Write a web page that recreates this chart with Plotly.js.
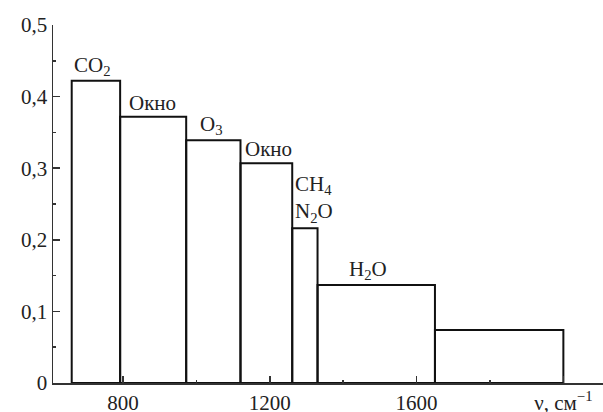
<!DOCTYPE html>
<html><head><meta charset="utf-8">
<script src="https://cdn.plot.ly/plotly-3.0.1.min.js"></script>
<style>html,body{margin:0;padding:0;background:#fff}#chart{width:603px;height:412px}</style>
</head><body><div id="chart"></div>
<script>
// Band edges (cm^-1) and values
const bandEdges = [660, 792, 972, 1120, 1261, 1330, 1650, 2000];
const bandValues = [0.422, 0.372, 0.339, 0.307, 0.216, 0.137, 0.074];
const bandLabels = ['CO<sub>2</sub>', 'Окно', 'O<sub>3</sub>', 'Окно', 'CH<sub>4</sub><br>N<sub>2</sub>O', 'H<sub>2</sub>O', ''];
const labelShift = [0, 7, 12, 3, 1, 29, 0];
const xTickVals = [800, 1200, 1600, 2000];
const xTickText = ['800', '1200', '1600', 'ν, см<sup>−1</sup>'];
const yTickVals = [0, 0.1, 0.2, 0.3, 0.4, 0.5];
const yTickText = ['0', '0,1', '0,2', '0,3', '0,4', '0,5'];

const centers = bandValues.map((v, i) => (bandEdges[i] + bandEdges[i + 1]) / 2);
const widths = bandValues.map((v, i) => bandEdges[i + 1] - bandEdges[i]);

const font = {family: 'Liberation Serif, Times New Roman, serif', size: 21, color: '#222'};

const trace = {
  type: 'bar', x: centers, y: bandValues, width: widths, base: 0,
  marker: {color: 'rgba(255,255,255,0)', line: {color: '#111', width: 2}},
  hoverinfo: 'skip', showlegend: false
};

const annotations = bandLabels.map((t, i) => ({
  x: bandEdges[i], y: bandValues[i], xref: 'x', yref: 'y',
  text: t, showarrow: false, xanchor: 'left', yanchor: 'bottom',
  xshift: labelShift[i], yshift: 0, align: 'left', font: font
})).filter(a => a.text !== '');

const layout = {
  width: 603, height: 412,
  margin: {l: 53, r: 0, t: 25, b: 29},
  paper_bgcolor: '#fff', plot_bgcolor: '#fff',
  font: font,
  xaxis: {
    range: [609, 2108], showgrid: false, zeroline: false,
    showline: true, linecolor: '#333', linewidth: 1.5,
    ticks: 'inside', ticklen: 7, tickwidth: 1.5, tickcolor: '#333',
    tickvals: xTickVals, ticktext: xTickText,
    minor: {dtick: 200, tick0: 0, ticks: 'inside', ticklen: 3, tickwidth: 1.5, tickcolor: '#333'},
    tickfont: font, fixedrange: true
  },
  yaxis: {
    range: [0, 0.5], showgrid: false, zeroline: false,
    showline: true, linecolor: '#333', linewidth: 1.5,
    ticks: 'inside', ticklen: 7, tickwidth: 1.5, tickcolor: '#333',
    tickvals: yTickVals, ticktext: yTickText,
    minor: {dtick: 0.05, ticks: 'inside', ticklen: 3, tickwidth: 1.5, tickcolor: '#333'},
    tickfont: font, fixedrange: true
  },
  annotations: annotations,
  bargap: 0
};

Plotly.newPlot('chart', [trace], layout, {displayModeBar: false, staticPlot: true});
</script></body></html>
